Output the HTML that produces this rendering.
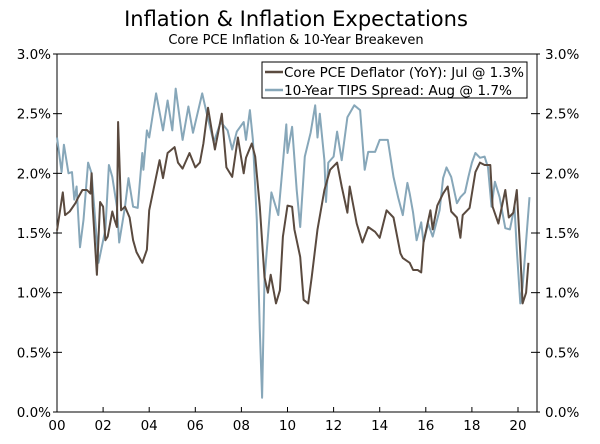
<!DOCTYPE html>
<html><head><meta charset="utf-8"><style>
body{margin:0;background:#fff;}
svg{display:block;font-family:"DejaVu Sans","Liberation Sans",sans-serif;}
</style></head><body>
<svg id="chart" width="600" height="444" viewBox="0 0 600 444">
<text x="296" y="26" text-anchor="middle" font-size="21" fill="#000">Inflation &amp; Inflation Expectations</text>
<text x="296" y="44" text-anchor="middle" font-size="13" fill="#000">Core PCE Inflation &amp; 10-Year Breakeven</text>
<g id="axes"></g>
<g id="series"></g>
<g>
<rect x="262" y="62" width="265" height="36" fill="#fff" stroke="#000" stroke-width="1"/>
<line x1="265" y1="72" x2="283" y2="72" stroke="#5a4a3f" stroke-width="2.5"/>
<text x="284" y="77" font-size="13.3" textLength="240" lengthAdjust="spacingAndGlyphs">Core PCE Deflator (YoY): Jul @ 1.3%</text>
<line x1="265" y1="90" x2="283" y2="90" stroke="#87a7b9" stroke-width="2.5"/>
<text x="284" y="95" font-size="13.3" textLength="228" lengthAdjust="spacingAndGlyphs">10-Year TIPS Spread: Aug @ 1.7%</text>
</g>
</svg>
<script>
const yTicks=[0,0.5,1.0,1.5,2.0,2.5,3.0];
const yTickLabels=["0.0%","0.5%","1.0%","1.5%","2.0%","2.5%","3.0%"];
const xTicks=[2000,2002,2004,2006,2008,2010,2012,2014,2016,2018,2020];
const xTickLabels=["00","02","04","06","08","10","12","14","16","18","20"];
const pceYears=[2000.0,2000.25,2000.35,2000.55,2000.8,2000.9,2001.1,2001.3,2001.45,2001.5,2001.55,2001.73,2001.87,2002.0,2002.1,2002.2,2002.4,2002.5,2002.6,2002.65,2002.78,2002.95,2003.15,2003.3,2003.45,2003.7,2003.9,2004.0,2004.3,2004.45,2004.6,2004.8,2005.1,2005.25,2005.45,2005.75,2006.0,2006.2,2006.35,2006.55,2006.85,2007.15,2007.35,2007.6,2007.85,2008.1,2008.2,2008.45,2008.6,2008.8,2009.0,2009.15,2009.27,2009.5,2009.67,2009.8,2010.0,2010.2,2010.3,2010.55,2010.7,2010.9,2011.05,2011.3,2011.6,2011.85,2012.15,2012.35,2012.6,2012.7,2013.0,2013.25,2013.5,2013.8,2014.0,2014.3,2014.6,2014.9,2015.0,2015.3,2015.45,2015.65,2015.8,2015.9,2016.2,2016.3,2016.5,2016.75,2016.95,2017.1,2017.35,2017.5,2017.6,2017.9,2018.15,2018.35,2018.55,2018.8,2018.9,2019.15,2019.45,2019.6,2019.8,2019.95,2020.1,2020.2,2020.35,2020.45];
const pceValues=[1.52,1.84,1.65,1.68,1.75,1.79,1.86,1.86,1.83,2.0,1.72,1.15,1.76,1.72,1.44,1.47,1.68,1.61,1.55,2.43,1.69,1.72,1.63,1.44,1.34,1.25,1.36,1.69,1.97,2.11,1.96,2.17,2.22,2.09,2.04,2.17,2.05,2.09,2.25,2.55,2.2,2.5,2.05,1.97,2.3,2.0,2.13,2.25,2.14,1.72,1.13,1.0,1.15,0.91,1.02,1.47,1.73,1.72,1.53,1.30,0.94,0.91,1.13,1.53,1.86,2.03,2.09,1.89,1.67,1.89,1.58,1.42,1.55,1.51,1.46,1.69,1.63,1.33,1.29,1.25,1.19,1.19,1.17,1.42,1.69,1.53,1.73,1.83,1.89,1.68,1.63,1.46,1.65,1.71,2.01,2.09,2.07,2.07,1.72,1.58,1.86,1.63,1.67,1.86,1.33,0.91,1.0,1.25];
const tipsYears=[2000.0,2000.2,2000.3,2000.5,2000.65,2000.75,2000.85,2001.0,2001.15,2001.35,2001.5,2001.8,2002.1,2002.25,2002.4,2002.6,2002.7,2002.95,2003.1,2003.3,2003.5,2003.7,2003.75,2003.9,2004.0,2004.3,2004.6,2004.8,2005.0,2005.15,2005.45,2005.7,2005.9,2006.3,2006.5,2006.8,2007.1,2007.4,2007.6,2007.8,2008.1,2008.2,2008.37,2008.5,2008.67,2008.8,2008.9,2009.0,2009.3,2009.6,2009.75,2009.95,2010.0,2010.2,2010.4,2010.55,2010.75,2011.0,2011.2,2011.3,2011.4,2011.6,2011.67,2011.77,2012.0,2012.15,2012.35,2012.6,2012.9,2013.15,2013.35,2013.5,2013.8,2014.0,2014.35,2014.6,2014.8,2015.0,2015.1,2015.2,2015.3,2015.45,2015.6,2015.8,2015.9,2016.1,2016.3,2016.6,2016.75,2016.9,2017.1,2017.35,2017.5,2017.7,2017.85,2018.0,2018.15,2018.35,2018.55,2018.7,2018.85,2019.0,2019.2,2019.45,2019.65,2019.85,2019.95,2020.1,2020.2,2020.5];
const tipsValues=[2.30,2.01,2.24,2.0,2.01,1.78,1.89,1.38,1.61,2.09,2.0,1.25,1.53,2.07,1.97,1.72,1.42,1.72,1.96,1.72,1.71,2.17,2.03,2.36,2.3,2.67,2.36,2.61,2.36,2.71,2.28,2.56,2.34,2.67,2.5,2.26,2.43,2.36,2.2,2.35,2.43,2.28,2.53,2.28,1.61,0.69,0.12,1.11,1.84,1.65,1.97,2.41,2.17,2.39,1.86,1.55,2.14,2.34,2.57,2.3,2.5,2.11,1.76,2.09,2.14,2.35,2.11,2.47,2.57,2.53,2.03,2.18,2.18,2.28,2.28,1.97,1.80,1.65,1.79,1.92,1.83,1.67,1.44,1.59,1.42,1.58,1.47,1.69,1.96,2.05,1.97,1.75,1.80,1.84,1.97,2.09,2.17,2.13,2.14,2.05,1.72,1.93,1.8,1.54,1.53,1.72,1.36,0.91,1.05,1.80];

const X0=57,X1=537,Y0=412,Y1=54;
const xScale=yr=>X0+(yr-2000)*23.05;
const yScale=v=>Y0-(v/3)*(Y0-Y1);
const NS="http://www.w3.org/2000/svg";
function mk(tag,attrs,parent){const e=document.createElementNS(NS,tag);for(const k in attrs)e.setAttribute(k,attrs[k]);parent.appendChild(e);return e;}
const axes=document.getElementById('axes');
const series=document.getElementById('series');

let el=mk('rect',{x:X0,y:Y1,width:X1-X0,height:Y0-Y1,fill:'none',stroke:'#000','stroke-width':1},axes);



yTicks.forEach((v,i)=>{
  const y=yScale(v);
  let t=mk('line',{x1:X0-4,x2:X0+5,y1:y,y2:y,stroke:'#000'},axes);
  
  
  let t2=mk('line',{x1:X1-6,x2:X1+3,y1:y,y2:y,stroke:'#000'},axes);
  
  
  let l=mk('text',{x:X0-6,y:y+5,'text-anchor':'end','font-size':13.5},axes);
  l.textContent=yTickLabels[i];
  
  
  let r=mk('text',{x:X1+8,y:y+5,'text-anchor':'start','font-size':13.5},axes);
  r.textContent=yTickLabels[i];
  
  
});
xTicks.forEach((yr,i)=>{
  const x=xScale(yr);
  let t=mk('line',{x1:x,x2:x,y1:Y0,y2:Y0-5,stroke:'#000'},axes);
  
  
  let l=mk('text',{x:x,y:Y0+18,'text-anchor':'middle','font-size':13.5},axes);
  l.textContent=xTickLabels[i];
  
  
});
function line(xs,vs){
  return xs.map((yr,i)=>(i?'L':'M')+xScale(yr).toFixed(1)+','+yScale(vs[i]).toFixed(1)).join(' ');
}
let p2=mk('path',{d:line(tipsYears,tipsValues),fill:'none',stroke:'#87a7b9','stroke-width':2,'stroke-linejoin':'round'},series);


let p1=mk('path',{d:line(pceYears,pceValues),fill:'none',stroke:'#5a4a3f','stroke-width':2,'stroke-linejoin':'round'},series);


</script>
</body></html>
